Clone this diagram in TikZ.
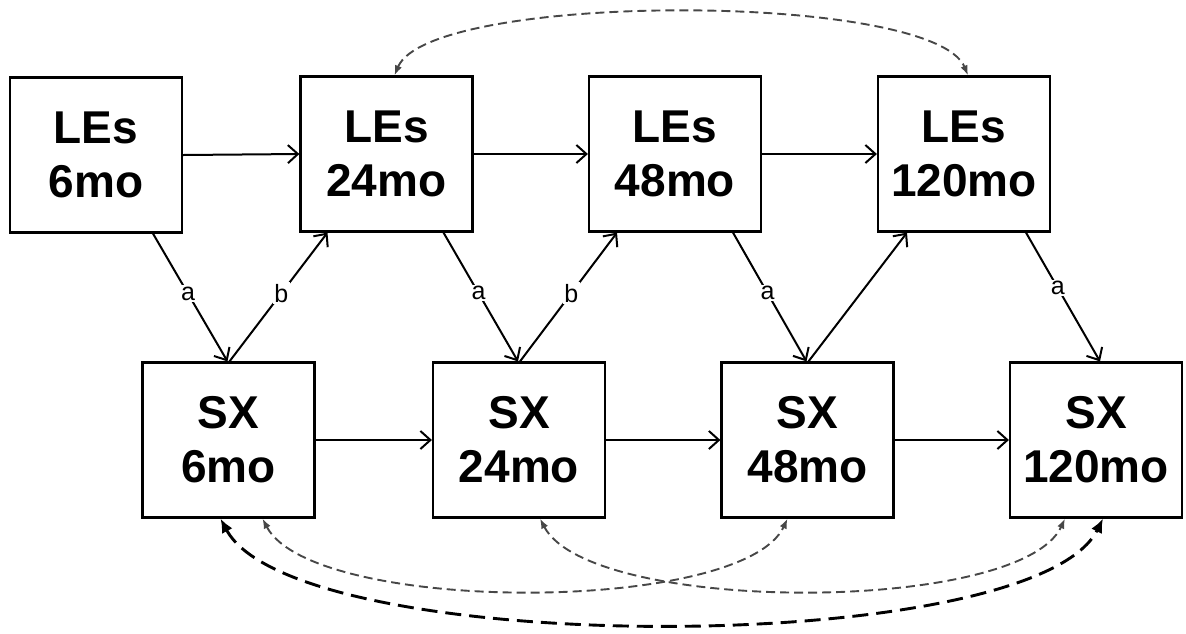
\documentclass[tikz,border=0pt]{standalone}
\usepackage{fontspec}
\setmainfont{Liberation Sans}
\usetikzlibrary{arrows.meta}
\begin{document}
\begin{tikzpicture}[x=1pt,y=-1pt,
  box/.style={draw=black, line width=2.2pt, minimum width=172pt, minimum height=155pt,
    align=center, inner sep=0pt, font=\fontsize{46}{54}\selectfont\bfseries},
  solidarrow/.style={line width=2pt, -{Straight Barb[length=10pt,width=18pt,line width=2pt]}},
  lbl/.style={fill=white, inner sep=1.5pt, font=\fontsize{25}{27}\selectfont},
  graydash/.style={draw=black!72, line width=1.9pt, dash pattern=on 9pt off 5pt,
    {Latex[length=10pt,width=7.5pt]}-{Latex[length=10pt,width=7.5pt]}},
  blackdash/.style={draw=black, line width=2.9pt, dash pattern=on 16pt off 8pt,
    {Latex[length=14pt,width=12pt]}-{Latex[length=14pt,width=12pt]}}
]
\useasboundingbox (0,0) rectangle (1186,633);

% top row
\node[box] (L6)   at (96,155)    {LEs\\6mo};
\node[box] (L24)  at (386.5,154) {LEs\\24mo};
\node[box] (L48)  at (675,154)   {LEs\\48mo};
\node[box] (L120) at (964,154)   {LEs\\120mo};
% bottom row
\node[box] (S6)   at (228.5,440) {SX\\6mo};
\node[box] (S24)  at (519,440)   {SX\\24mo};
\node[box] (S48)  at (807.5,440) {SX\\48mo};
\node[box] (S120) at (1096,440)  {SX\\120mo};

% horizontal arrows
\draw[solidarrow] (L6.east) -- (L24.west);
\draw[solidarrow] (L24.east) -- (L48.west);
\draw[solidarrow] (L48.east) -- (L120.west);
\draw[solidarrow] (S6.east) -- (S24.west);
\draw[solidarrow] (S24.east) -- (S48.west);
\draw[solidarrow] (S48.east) -- (S120.west);

% diagonal arrows
\draw[solidarrow] ([xshift=57pt]L6.south) -- node[lbl, pos=0.47] {a} ([xshift=-1pt]S6.north);
\draw[solidarrow] ([xshift=1pt]S6.north) -- node[lbl, pos=0.53] {b} ([xshift=-59pt]L24.south);
\draw[solidarrow] ([xshift=57pt]L24.south) -- node[lbl, pos=0.47] {a} ([xshift=-1pt]S24.north);
\draw[solidarrow] ([xshift=1pt]S24.north) -- node[lbl, pos=0.53] {b} ([xshift=-58pt]L48.south);
\draw[solidarrow] ([xshift=58pt]L48.south) -- node[lbl, pos=0.47] {a} ([xshift=-1pt]S48.north);
\draw[solidarrow] ([xshift=1pt]S48.north) -- ([xshift=-57pt]L120.south);
\draw[solidarrow] ([xshift=62pt]L120.south) -- node[lbl, pos=0.43] {a} ([xshift=4pt]S120.north);

% dashed curves
\draw[graydash] ([xshift=8pt]L24.north) .. controls +(35,-84) and +(-35,-84) .. ([xshift=4pt]L120.north);
\draw[graydash] ([xshift=34pt]S6.south) .. controls +(50,96) and +(-45,96) .. ([xshift=-20pt]S48.south);
\draw[graydash] ([xshift=21pt]S24.south) .. controls +(50,96) and +(-45,96) .. ([xshift=-31pt]S120.south);
\draw[blackdash] ([xshift=-8pt]S6.south) .. controls +(75,140) and +(-70,140) .. ([xshift=7pt]S120.south);
\end{tikzpicture}
\end{document}
